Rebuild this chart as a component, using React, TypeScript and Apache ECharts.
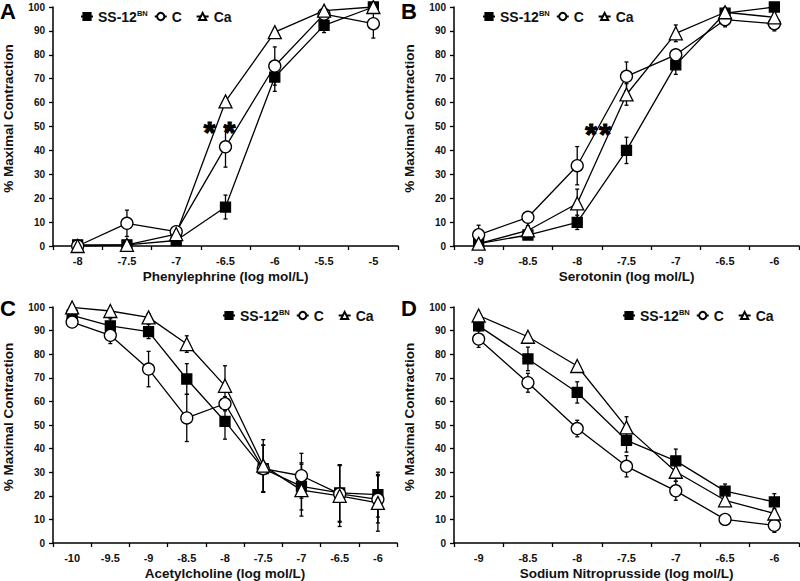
import React, { useEffect, useRef } from 'react';
import * as echarts from 'echarts';

const catsA = ['-8', '-7.5', '-7', '-6.5', '-6', '-5.5', '-5'];
const catsB = ['-9', '-8.5', '-8', '-7.5', '-7', '-6.5', '-6'];
const catsC = ['-10', '-9.5', '-9', '-8.5', '-8', '-7.5', '-7', '-6.5', '-6'];
const catsD = ['-9', '-8.5', '-8', '-7.5', '-7', '-6.5', '-6'];

const namesX = [
  'Phenylephrine (log mol/L)',
  'Serotonin (log mol/L)',
  'Acetylcholine (log mol/L)',
  'Sodium Nitroprusside (log mol/L)',
];
const panelLetters = ['A', 'B', 'C', 'D'];
const seriesNames = ['SS-12BN', 'C', 'Ca'];

// Panel A
const aSS = [0.5, 0.5, 2.3, 16.3, 70.7, 92.3, 100];
const aSSerr = [0, 0, 1, 5, 6, 3, 0];
const aC = [0, 9.5, 6, 41.5, 75.3, 97, 93];
const aCerr = [0, 5.5, 1, 8.5, 8, 1.5, 6];
const aCa = [0, 0.5, 5, 60.5, 89.5, 98.5, 100];
const aCaErr = [0, 0, 1, 0, 1, 1, 1];
// significance markers: [category index, value]
const aStars = [[3, 50.5], [3, 50.5]];

// Panel B
const bSS = [1, 4.6, 9.9, 40, 75.8, 97.4, 100];
const bSSerr = [0.5, 1, 3, 5.5, 4, 2, 0];
const bC = [4.7, 12, 33.6, 71, 80, 94.7, 93];
const bCerr = [4, 1, 8, 6, 2, 3, 3];
const bCa = [1, 6.5, 17.8, 63.4, 89, 97.8, 95.7];
const bCaErr = [1, 2, 6, 4.5, 3.5, 2, 2];
const bStars = [[2, 49.4], [2, 49.4]];

// Panel C
const cSS = [96.5, 92, 89.6, 69.5, 51.5, 31.5, 24, 21.2, 20.5];
const cSSerr = [1, 3, 3, 6.5, 7.5, 10, 10, 12, 9.5];
const cC = [93.6, 88, 73.7, 53, 59, 31.5, 28.5, 20.8, 18.5];
const cCerr = [1, 3.5, 7.5, 10, 3, 10, 9.5, 12, 10];
const cCa = [99.8, 98.3, 95.6, 84.3, 66.6, 32.8, 22.4, 20, 17];
const cCaErr = [0.5, 1, 1.5, 3.5, 8.5, 11, 11, 13, 12];

// Panel D
const dSS = [92, 78, 63.8, 43.5, 34.8, 22, 17.4];
const dSSerr = [2, 5, 4.5, 5, 5, 3, 3.5];
const dC = [86.4, 67.9, 48.5, 32.5, 22.1, 10, 7.5];
const dCerr = [3.5, 4, 3.5, 4.5, 4, 1, 3];
const dCa = [96.4, 87.4, 75, 49, 30.2, 18.1, 12.5];
const dCaErr = [1, 1, 1, 4.5, 4, 2, 2];

const FONT = '"Liberation Sans", Arial, Helvetica, sans-serif';
const TXT = '#111';

const grids = [
  { left: 53, top: 7, width: 345, height: 239 },
  { left: 454, top: 7, width: 345, height: 239 },
  { left: 52, top: 307, width: 345, height: 239 },
  { left: 454, top: 307, width: 345, height: 239 },
];
const legendPos = [
  { left: 75, top: 4 },
  { left: 477, top: 4 },
  { left: 217, top: 303 },
  { left: 617, top: 303 },
];
const letterPos = [
  { left: 0, top: 0 },
  { left: 401, top: 0 },
  { left: 0, top: 297 },
  { left: 401, top: 297 },
];
// horizontal pixel nudges of the asterisks relative to their category centre
const aStarShift = [-16, 4];
const bStarShift = [14, 28];

function errSeries(idx: number, vals: number[], errs: number[]) {
  const data: number[][] = [];
  vals.forEach((v, i) => {
    if (errs[i] > 0) data.push([i, v - errs[i], v + errs[i]]);
  });
  return {
    type: 'custom',
    xAxisIndex: idx,
    yAxisIndex: idx,
    silent: true,
    z: 1,
    encode: { x: 0, y: [1, 2] },
    data,
    renderItem: (params: any, api: any) => {
      const x = api.value(0);
      const lo = api.coord([x, api.value(1)]);
      const hi = api.coord([x, api.value(2)]);
      const cw = 2;
      const st = { stroke: '#000', lineWidth: 1.3 };
      return {
        type: 'group',
        children: [
          { type: 'line', shape: { x1: lo[0], y1: lo[1], x2: hi[0], y2: hi[1] }, style: st },
          { type: 'line', shape: { x1: lo[0] - cw, y1: lo[1], x2: lo[0] + cw, y2: lo[1] }, style: st },
          { type: 'line', shape: { x1: hi[0] - cw, y1: hi[1], x2: hi[0] + cw, y2: hi[1] }, style: st },
        ],
      };
    },
  };
}

function lineSeries(idx: number, name: string, vals: number[]) {
  const symbol = name === 'SS-12BN' ? 'rect' : name === 'C' ? 'circle' : 'triangle';
  const size = name === 'SS-12BN' ? 10 : name === 'C' ? 12 : 13;
  const fill = name === 'SS-12BN' ? '#000' : '#fff';
  return {
    type: 'line',
    name,
    xAxisIndex: idx,
    yAxisIndex: idx,
    data: vals,
    symbol,
    symbolSize: size,
    z: 3,
    lineStyle: { color: '#000', width: 1.3 },
    itemStyle: { color: fill, borderColor: '#000', borderWidth: 1.3 },
    emphasis: { disabled: true },
  };
}

function starSeries(idx: number, pts: number[][], shifts: number[]) {
  return {
    type: 'custom',
    xAxisIndex: idx,
    yAxisIndex: idx,
    silent: true,
    z: 6,
    encode: { x: 0, y: 1 },
    data: pts.map((p, i) => [p[0], p[1], shifts[i]]),
    renderItem: (params: any, api: any) => {
      const c = api.coord([api.value(0), api.value(1)]);
      return {
        type: 'text',
        x: c[0] + api.value(2),
        y: c[1] + 6,
        style: {
          text: '*',
          fontSize: 30,
          fontWeight: 'bold',
          fontFamily: FONT,
          fill: '#000',
          stroke: '#000',
          lineWidth: 1.2,
          align: 'center',
          verticalAlign: 'middle',
        },
      };
    },
  };
}

export default function App() {
  const ref = useRef<HTMLDivElement>(null);
  useEffect(() => {
    if (!ref.current) return;
    const chart = echarts.init(ref.current, undefined, { renderer: 'svg' });
    const cats = [catsA, catsB, catsC, catsD];
    const panels = [
      [aSS, aSSerr, aC, aCerr, aCa, aCaErr],
      [bSS, bSSerr, bC, bCerr, bCa, bCaErr],
      [cSS, cSSerr, cC, cCerr, cCa, cCaErr],
      [dSS, dSSerr, dC, dCerr, dCa, dCaErr],
    ];
    const series: any[] = [];
    panels.forEach((p, i) => {
      series.push(errSeries(i, p[0], p[1]));
      series.push(errSeries(i, p[2], p[3]));
      series.push(errSeries(i, p[4], p[5]));
      series.push(lineSeries(i, 'SS-12BN', p[0]));
      series.push(lineSeries(i, 'C', p[2]));
      series.push(lineSeries(i, 'Ca', p[4]));
    });
    series.push(starSeries(0, aStars, aStarShift));
    series.push(starSeries(1, bStars, bStarShift));

    const option: any = {
      animation: false,
      textStyle: { fontFamily: FONT },
      grid: grids,
      xAxis: cats.map((c, i) => ({
        type: 'category',
        gridIndex: i,
        data: c,
        boundaryGap: true,
        name: namesX[i],
        nameLocation: 'middle',
        nameGap: 23,
        nameTextStyle: { fontSize: 13.5, fontWeight: 'bold', color: TXT, fontFamily: FONT },
        axisLine: { lineStyle: { color: '#000', width: 1.5 } },
        axisTick: { show: true, length: 4, alignWithLabel: false, lineStyle: { color: '#000', width: 1.3 } },
        axisLabel: { color: TXT, fontSize: 11, fontWeight: 'bold', margin: 9, fontFamily: FONT },
        splitLine: { show: false },
      })),
      yAxis: cats.map((_, i) => ({
        type: 'value',
        gridIndex: i,
        min: 0,
        max: 100,
        interval: 10,
        name: '% Maximal Contraction',
        nameLocation: 'middle',
        nameGap: 38,
        nameTextStyle: { fontSize: 13.5, fontWeight: 'bold', color: TXT, fontFamily: FONT, padding: [0, 0, 0, 16] },
        axisLine: { show: true, lineStyle: { color: '#000', width: 1.5 } },
        axisTick: { show: true, length: 4, lineStyle: { color: '#000', width: 1.3 } },
        axisLabel: { color: TXT, fontSize: 10, fontWeight: 'bold', margin: 8, fontFamily: FONT },
        splitLine: { show: false },
      })),
      legend: legendPos.map((lp) => ({
        ...lp,
        data: seriesNames,
        orient: 'horizontal',
        itemWidth: 12,
        itemHeight: 9,
        itemGap: 6,
        selectedMode: false,
        textStyle: {
          fontSize: 14,
          fontWeight: 'bold',
          color: TXT,
          fontFamily: FONT,
          rich: {
            sup: { fontSize: 7.5, fontWeight: 'bold', color: TXT, fontFamily: FONT, padding: [0, 0, 7, 0] },
          },
        },
        formatter: (n: string) => (n === 'SS-12BN' ? 'SS-12{sup|BN}' : n === 'C' ? 'C  ' : n),
      })),
      graphic: panelLetters.map((t, i) => ({
        type: 'text',
        left: letterPos[i].left,
        top: letterPos[i].top,
        style: { text: t, fontSize: 22, fontWeight: 'bold', fill: '#000', fontFamily: FONT },
      })),
      series,
    };
    chart.setOption(option);
    return () => chart.dispose();
  }, []);
  return (
    <div
      ref={ref}
      style={{ position: 'fixed', left: 0, top: 0, width: 800, height: 581, background: '#fff' }}
    />
  );
}
